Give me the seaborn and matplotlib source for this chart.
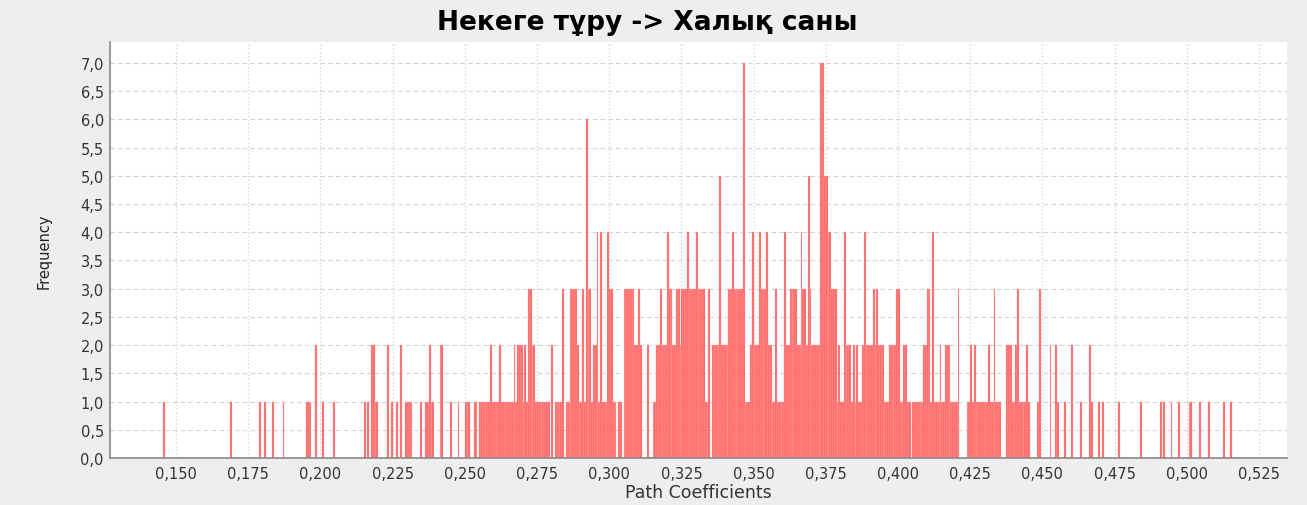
import numpy as np
import pandas as pd
import seaborn as sns
import matplotlib.pyplot as plt
from matplotlib.ticker import MultipleLocator, FuncFormatter

# Histogram of bootstrap path coefficients.
# Bin width 0.000625 -> 40 bins per 0.025 axis step; one string of counts per step.
bin_width = 0.000625
seg_starts = [0.125, 0.150, 0.175, 0.200, 0.225, 0.250, 0.275, 0.300,
              0.325, 0.350, 0.375, 0.400, 0.425, 0.450, 0.475, 0.500]
seg_counts = [
    "0000000000000000000000000000000001000000",  # 0.125
    "0000000000000000000000000000001000000000",  # 0.150
    "0000001001000100000100000000000011100200",  # 0.175
    "0100000100000000000000001010221100000201",  # 0.200
    "0010200111100001001121100022000010001000",  # 0.225
    "1110011011111121111211111112122212133221",  # 0.250
    "1111111020111130113333211316331224141114",  # 0.275
    "3311011033333322320002001122322243322332",  # 0.300
    "3334333343333113022225222233433333711124",  # 0.325
    "2224333422113111142233332243325322222775",  # 0.350
    "5443331211422212121124222232322211122223",  # 0.375
    "3112211011111122331411121122211113000011",  # 0.400
    "2121111111211311100022211231111210000130",  # 0.425
    "0000200210001000200001000021000101000000",  # 0.450
    "0010000000000010000000000101000100010000",  # 0.475
    "0110000100001000000010001000000000000000",  # 0.500
]

title = "Некеге тұру -> Халық саны"
x_label = "Path Coefficients"
y_label = "Frequency"

rows = []
for start, counts in zip(seg_starts, seg_counts):
    for i, c in enumerate(counts):
        if c != "0":
            rows.append((start + (i + 0.5) * bin_width, int(c)))
df = pd.DataFrame(rows, columns=["coef", "freq"])
edges = list(seg_starts[0] + bin_width * np.arange(len(seg_starts) * 40 + 1))

sns.set_style("whitegrid")
plt.rcParams["font.family"] = ["DejaVu Sans"]

fig = plt.figure(figsize=(13.07, 5.06), dpi=100, facecolor="#eeeeee")
ax = fig.add_axes([0.0842, 0.093, 0.9005, 0.822])
ax.set_facecolor("white")

sns.histplot(data=df, x="coef", weights="freq", bins=edges, ax=ax,
             color="#ff4a4a", alpha=0.85, edgecolor="#ffb4b4", linewidth=0.25)

ax.set_xlim(0.12715, 0.5347)
ax.set_ylim(0, 7.37)
ax.xaxis.set_major_locator(MultipleLocator(0.025))
ax.yaxis.set_major_locator(MultipleLocator(0.5))
ax.xaxis.set_major_formatter(FuncFormatter(lambda v, p: f"{v:.3f}".replace(".", ",")))
ax.yaxis.set_major_formatter(FuncFormatter(lambda v, p: f"{v:.1f}".replace(".", ",")))

ax.grid(axis="y", color="#d2d2d2", linestyle=(0, (4, 3)), linewidth=0.8)
ax.grid(axis="x", color="#cfcfcf", linestyle=(0, (1, 2)), linewidth=0.9)
ax.set_axisbelow(True)
for side in ["top", "right"]:
    ax.spines[side].set_visible(False)
for side in ["left", "bottom"]:
    ax.spines[side].set_color("#888888")
    ax.spines[side].set_linewidth(1.2)
ax.tick_params(axis="both", length=3, width=0.8, color="#888888",
               labelsize=10.5, labelcolor="#333333")
ax.tick_params(axis="y", pad=1.5)
ax.tick_params(axis="x", pad=3)

ax.set_xlabel(x_label, fontsize=12.5, color="#333333", labelpad=1)
ax.set_ylabel(y_label, fontsize=10.5, color="#222222")
ax.yaxis.set_label_coords(-0.050, 0.5)
fig.text(0.495, 0.955, title, ha="center", va="center",
         fontsize=19, fontweight="bold", color="black")

fig.savefig("out.png", dpi=100, facecolor=fig.get_facecolor())
